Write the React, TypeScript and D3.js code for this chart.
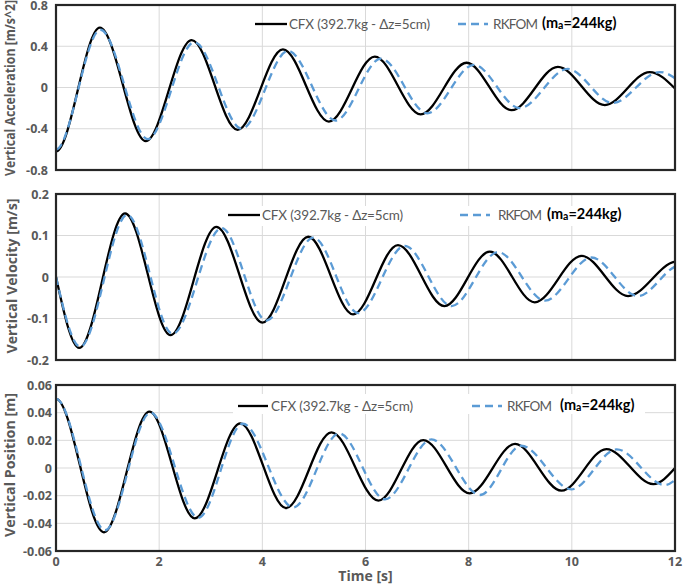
import React from 'react';
import * as d3 from 'd3';

type Pt = [number, number];

// ---------- data ----------
const timeTicks = [0, 2, 4, 6, 8, 10, 12];
const accTicks = [-0.8, -0.4, 0, 0.4, 0.8];
const velTicks = [-0.2, -0.1, 0, 0.1, 0.2];
const posTicks = [-0.06, -0.04, -0.02, 0, 0.02, 0.04, 0.06];

const legendCfx = 'CFX (392.7kg - Δz=5cm)';
const legendRk = 'RKFOM';
const legendMass = ['(m', 'a', '=244kg)'];

// extrema (time [s], value) of each trace
const accCfx: Pt[] = [[0, -0.62], [0.85, 0.58], [1.74, -0.52], [2.63, 0.46], [3.52, -0.41], [4.4, 0.37], [5.29, -0.33], [6.18, 0.3], [7.07, -0.26], [7.96, 0.24], [8.83, -0.22], [9.73, 0.2], [10.64, -0.17], [11.51, 0.15], [12, -0.01]];
const accRk: Pt[] = [[0, -0.6], [0.86, 0.56], [1.78, -0.5], [2.68, 0.44], [3.6, -0.4], [4.5, 0.355], [5.42, -0.32], [6.3, 0.28], [7.2, -0.25], [8.1, 0.22], [8.99, -0.2], [9.92, 0.18], [10.79, -0.15], [11.7, 0.15], [12, 0.09]];

const velCfx: Pt[] = [[0, 0], [0.45, -0.171], [1.34, 0.153], [2.22, -0.14], [3.11, 0.121], [4.0, -0.11], [4.89, 0.097], [5.76, -0.09], [6.63, 0.077], [7.53, -0.07], [8.41, 0.061], [9.28, -0.061], [10.19, 0.051], [11.09, -0.046], [12, 0.037]];
const velRk: Pt[] = [[0, 0], [0.47, -0.168], [1.38, 0.15], [2.26, -0.137], [3.21, 0.118], [4.08, -0.105], [4.99, 0.095], [5.86, -0.087], [6.76, 0.075], [7.67, -0.07], [8.57, 0.06], [9.48, -0.057], [10.38, 0.047], [11.28, -0.046], [12, 0.025]];

const posCfx: Pt[] = [[0, 0.05], [0.93, -0.0465], [1.81, 0.0407], [2.69, -0.0364], [3.57, 0.0323], [4.46, -0.029], [5.34, 0.0258], [6.25, -0.0236], [7.12, 0.0202], [8.02, -0.0183], [8.9, 0.0174], [9.8, -0.0164], [10.67, 0.0137], [11.58, -0.0116], [12, 0.0]];
const posRk: Pt[] = [[0, 0.05], [0.95, -0.045], [1.83, 0.04], [2.76, -0.036], [3.62, 0.032], [4.6, -0.0285], [5.49, 0.025], [6.38, -0.0226], [7.28, 0.0207], [8.22, -0.0195], [9.02, 0.0161], [9.99, -0.0154], [10.87, 0.0135], [11.8, -0.0123], [12, -0.0087]];

// ---------- custom d3 curve: cubic Hermite with flat tangents at extrema ----------
function extremaCurve(startFactor: number, endFactor: number) {
  return (context: any) => {
    let pts: Pt[] = [];
    return {
      areaStart() {},
      areaEnd() {},
      lineStart() { pts = []; },
      point(x: number, y: number) { pts.push([+x, +y]); },
      lineEnd() {
        const n = pts.length;
        if (!n) return;
        const m = new Array(n).fill(0);
        if (n > 1) {
          const s0 = (pts[1][1] - pts[0][1]) / (pts[1][0] - pts[0][0]);
          const sn = (pts[n - 1][1] - pts[n - 2][1]) / (pts[n - 1][0] - pts[n - 2][0]);
          m[0] = startFactor * s0;
          m[n - 1] = endFactor * sn;
        }
        context.moveTo(pts[0][0], pts[0][1]);
        for (let i = 1; i < n; i++) {
          const [x0, y0] = pts[i - 1];
          const [x1, y1] = pts[i];
          const h = (x1 - x0) / 3;
          context.bezierCurveTo(x0 + h, y0 + m[i - 1] * h, x1 - h, y1 - m[i] * h, x1, y1);
        }
      },
    };
  };
}

// ---------- layout ----------
const W = 685;
const H = 585;
const X0 = 56;
const X1 = 675;
const FONT = 'Lato, "Open Sans", sans-serif';
const BFONT = '"Open Sans", Lato, sans-serif';
const GRAY = '#595959';
const BLUE = '#5B9BD5';

const x = d3.scaleLinear().domain([0, 12]).range([X0, X1]);

interface LegendCfg {
  y: number;
  cfxLine: [number, number];
  cfxText: [number, number];
  rkLine: [number, number];
  rkText: [number, number];
  massX: number;
  box?: [number, number, number, number];
}

interface PanelCfg {
  top: number;
  bottom: number;
  ticks: number[];
  title: string;
  titleX: number;
  titleY: number;
  titleLen: number;
  tickRight: number;
  cfx: Pt[];
  rk: Pt[];
  factors: [number, number, number, number];
  legend: LegendCfg;
  xLabels: boolean;
}

const panels: PanelCfg[] = [
  {
    top: 5, bottom: 170, ticks: accTicks, title: 'Vertical Acceleration [m/s^2]', titleX: 15, titleY: 88, titleLen: 176, tickRight: 48,
    cfx: accCfx, rk: accRk, factors: [0, 1.5, 0, 1.8],
    legend: { y: 24, cfxLine: [255, 287], cfxText: [289, 141], rkLine: [458, 488], rkText: [493, 45], massX: 542 },
    xLabels: false,
  },
  {
    top: 194, bottom: 360, ticks: velTicks, title: 'Vertical Velocity [m/s]', titleX: 17, titleY: 276, titleLen: 155, tickRight: 49,
    cfx: velCfx, rk: velRk, factors: [1.5, 0.2, 1.5, 0.6],
    legend: { y: 215, cfxLine: [228, 260], cfxText: [262, 141], rkLine: [460, 490], rkText: [498, 44], massX: 547, box: [222, 206, 410, 20] },
    xLabels: false,
  },
  {
    top: 385, bottom: 551, ticks: posTicks, title: 'Vertical Position [m]', titleX: 15, titleY: 465, titleLen: 144, tickRight: 52,
    cfx: posCfx, rk: posRk, factors: [0, 1.5, 0, 1.8],
    legend: { y: 406, cfxLine: [238, 268], cfxText: [271, 142], rkLine: [472, 502], rkText: [507, 45], massX: 560, box: [233, 394, 412, 20] },
    xLabels: true,
  },
];

function Panel({ p, idx }: { p: PanelCfg; idx: number }) {
  const ext = d3.extent(p.ticks) as [number, number];
  const y = d3.scaleLinear().domain(ext).range([p.bottom, p.top]);
  const lineCfx = d3.line<Pt>().x((d) => x(d[0])).y((d) => y(d[1])).curve(extremaCurve(p.factors[0], p.factors[1]) as any);
  const lineRk = d3.line<Pt>().x((d) => x(d[0])).y((d) => y(d[1])).curve(extremaCurve(p.factors[2], p.factors[3]) as any);
  const L = p.legend;
  const clipId = `clip${idx}`;
  return (
    <g>
      <defs>
        <clipPath id={clipId}>
          <rect x={X0} y={p.top} width={X1 - X0} height={p.bottom - p.top} />
        </clipPath>
      </defs>
      {/* grid */}
      {p.ticks.map((t) => (
        <line key={'h' + t} x1={X0} x2={X1} y1={y(t)} y2={y(t)} stroke="#d9d9d9" strokeWidth={1} />
      ))}
      {timeTicks.slice(1, -1).map((t) => (
        <line key={'v' + t} x1={x(t)} x2={x(t)} y1={p.top} y2={p.bottom} stroke="#d9d9d9" strokeWidth={1} />
      ))}
      {L.box && <rect x={L.box[0]} y={L.box[1]} width={L.box[2]} height={L.box[3]} fill="#fff" />}
      {/* traces */}
      <g clipPath={`url(#${clipId})`}>
        <path d={lineCfx(p.cfx) || ''} fill="none" stroke="#000" strokeWidth={2.3} strokeLinejoin="round" />
        <path d={lineRk(p.rk) || ''} fill="none" stroke={BLUE} strokeWidth={2.3} strokeDasharray="8,5" />
      </g>
      {/* frame */}
      <rect x={X0} y={p.top} width={X1 - X0} height={p.bottom - p.top} fill="none" stroke="#262626" strokeWidth={2.2} />
      {/* y tick labels */}
      {p.ticks.map((t) => (
        <text key={'yl' + t} x={p.tickRight} y={y(t) + 4.5} textAnchor="end" fontFamily={BFONT} fontWeight="bold" fontSize={12.5} fill={GRAY}>
          {String(t)}
        </text>
      ))}
      {/* y title */}
      <text transform={`translate(${p.titleX},${p.titleY}) rotate(-90)`} textAnchor="middle" textLength={p.titleLen} lengthAdjust="spacingAndGlyphs" fontFamily={BFONT} fontWeight="bold" fontSize={13.5} fill={GRAY}>
        {p.title}
      </text>
      {/* x tick labels */}
      {p.xLabels && timeTicks.map((t) => (
        <text key={'xl' + t} x={x(t)} y={p.bottom + 15} textAnchor="middle" fontFamily={BFONT} fontWeight="bold" fontSize={12.5} fill={GRAY}>
          {String(t)}
        </text>
      ))}
      {/* legend */}
      <line x1={L.cfxLine[0]} x2={L.cfxLine[1]} y1={L.y} y2={L.y} stroke="#000" strokeWidth={2.3} />
      <text x={L.cfxText[0]} y={L.y + 5} textLength={L.cfxText[1]} lengthAdjust="spacing" fontFamily={FONT} fontSize={13.5} fill={GRAY}>
        {legendCfx}
      </text>
      <line x1={L.rkLine[0]} x2={L.rkLine[1]} y1={L.y} y2={L.y} stroke={BLUE} strokeWidth={2.3} strokeDasharray="8,5" />
      <text x={L.rkText[0]} y={L.y + 5} textLength={L.rkText[1]} lengthAdjust="spacing" fontFamily={FONT} fontSize={13.5} fill={GRAY}>
        {legendRk}
      </text>
      <text x={L.massX} y={L.y + 4} fontFamily={FONT} fontWeight="bold" fontSize={14.5} fill="#000">
        <tspan>{legendMass[0]}</tspan>
        <tspan fontSize={10.5} dy={1}>{legendMass[1]}</tspan>
        <tspan dy={-1}>{legendMass[2]}</tspan>
      </text>
    </g>
  );
}

export default function App() {
  return (
    <svg width={W} height={H} viewBox={`0 0 ${W} ${H}`} style={{ position: 'absolute', left: 0, top: 0, background: '#fff' }}>
      <rect x={0} y={0} width={W} height={H} fill="#fff" />
      {panels.map((p, i) => (
        <Panel key={i} p={p} idx={i} />
      ))}
      <text x={(X0 + X1) / 2} y={581} textAnchor="middle" fontFamily={BFONT} fontWeight="bold" fontSize={14} fill={GRAY}>
        Time [s]
      </text>
    </svg>
  );
}
